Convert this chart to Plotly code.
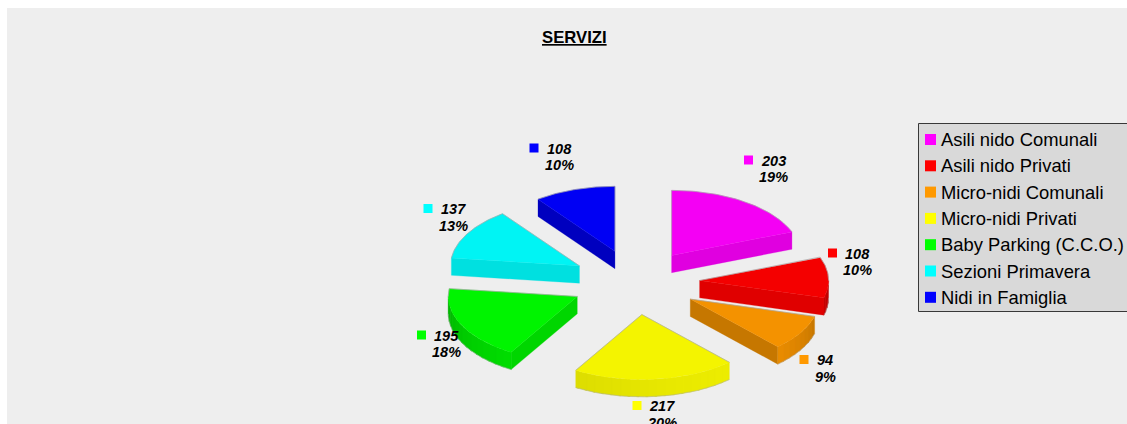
import numpy as np
import plotly.graph_objects as go

# ---- data ----
categories = ["Asili nido Comunali", "Asili nido Privati", "Micro-nidi Comunali", "Micro-nidi Privati",
              "Baby Parking (C.C.O.)", "Sezioni Primavera", "Nidi in Famiglia"]
values = [203, 108, 94, 217, 195, 137, 108]
colors = ["#FF00FF", "#FF0000", "#FF9900", "#FFFF00", "#00FF00", "#00FFFF", "#0000FF"]
title_text = "SERVIZI"

# ---- layout constants (pixels in the 1127x424 page) ----
W, H = 1127, 424
PANEL_L, PANEL_T = 7, 8
CX, CY, RX, RY = 635.2, 282.2, 129.0, 65.0   # pie centre and radii
EXPLODE = 0.5                                 # in radii
DEPTH = 17.3 / RY                             # in radii
LABEL_SQUARES = [(748.5, 160), (832.5, 253), (804, 359.5), (637, 405.5), (421.5, 335), (428, 208.5), (534, 148)]
EDGE = "#A8A8A8"

def X(px):
    return (px - CX) / RX

def Y(py):
    return (CY - py) / RY

def shade(color, f):
    r, g, b = int(color[1:3], 16), int(color[3:5], 16), int(color[5:7], 16)
    return f"rgb({int(r * f)},{int(g * f)},{int(b * f)})"

def arc_factor(theta):
    return float(np.interp(theta % 360, [90, 120, 140, 170, 211, 240, 270],
                           [0.72, 0.85, 0.93, 0.91, 0.87, 0.80, 0.70]))

def edge_factor(normal):
    return float(np.interp(normal % 360, [120, 158, 187, 195, 227, 233],
                           [0.84, 0.88, 0.88, 0.88, 0.78, 0.75]))

fig = go.Figure()

def poly(xs, ys, fill):
    fig.add_trace(go.Scatter(
        x=xs, y=ys, mode="lines", fill="toself", fillcolor=fill,
        line=dict(color=fill, width=0.3), hoverinfo="skip", showlegend=False))

def stroke(xs, ys, color=EDGE, width=0.7):
    fig.add_trace(go.Scatter(
        x=xs, y=ys, mode="lines", line=dict(color=color, width=width),
        hoverinfo="skip", showlegend=False))

total = sum(values)
start = 0.0
for value, color in zip(values, colors):
    extent = value / total * 360
    end = start + extent
    mid = np.radians(start + extent / 2)
    dx, dy = EXPLODE * np.sin(mid), EXPLODE * np.cos(mid)

    # flat walls along the straight edges that face the viewer
    edges = ((start, start - 90), (end, end + 90))
    for a, normal in edges:
        if np.cos(np.radians(normal)) < -1e-6:
            t = np.radians(a)
            ex, ey = dx + np.sin(t), dy + np.cos(t)
            poly([dx, ex, ex, dx, dx], [dy, ey, ey - DEPTH, dy - DEPTH, dy],
                 shade(color, edge_factor(normal)))

    # outer rounded wall, facing the viewer only between 90 and 270 degrees
    a0, a1 = max(start, 90), min(end, 270)
    if a1 > a0:
        for a in np.arange(a0, a1, 4.0):
            b = min(a + 5.0, a1)
            arc = np.radians(np.linspace(a, b, 5))
            ax, ay = dx + np.sin(arc), dy + np.cos(arc)
            poly(list(ax) + list(ax[::-1]) + [ax[0]],
                 list(ay) + list(ay[::-1] - DEPTH) + [ay[0]],
                 shade(color, arc_factor(a + 2)))
        arc = np.radians(np.linspace(a0, a1, 40))
        stroke(dx + np.sin(arc), dy + np.cos(arc) - DEPTH, width=0.5)

    # top face
    arc = np.radians(np.linspace(start, end, 60))
    poly([dx] + list(dx + np.sin(arc)) + [dx], [dy] + list(dy + np.cos(arc)) + [dy], shade(color, 0.96))

    # thin grey line on the far edges of the top face
    for a, normal in edges:
        if np.cos(np.radians(normal)) >= -1e-6:
            t = np.radians(a)
            stroke([dx, dx + np.sin(t)], [dy, dy + np.cos(t)])
    for lo, hi in ((start, min(end, 90)), (max(start, 270), end)):
        if hi > lo:
            arc = np.radians(np.linspace(lo, hi, 40))
            stroke(dx + np.sin(arc), dy + np.cos(arc))
    start = end

# data labels
annotations = []
def text(px, py, s, size, bold=False, italic=False, anchor="center"):
    if bold:
        s = f"<b>{s}</b>"
    if italic:
        s = f"<i>{s}</i>"
    annotations.append(dict(x=X(px), y=Y(py), text=s, showarrow=False, xanchor=anchor, yanchor="middle",
                            font=dict(family="Liberation Sans", size=size, color="#000000"),
                            xref="x", yref="y", borderpad=0, borderwidth=0))

fig.add_trace(go.Scatter(
    x=[X(p[0]) for p in LABEL_SQUARES], y=[Y(p[1]) for p in LABEL_SQUARES], mode="markers",
    marker=dict(symbol="square", size=9, color=colors, line=dict(width=0)),
    hoverinfo="skip", showlegend=False))
for (px, py), value in zip(LABEL_SQUARES, values):
    centre = px + 13 + 4 * len(str(value))
    text(centre, py + 0.6, str(value), 14.5, bold=True, italic=True)
    text(centre, py + 17, f"{round(value / total * 100)}%", 14.5, bold=True, italic=True)

# legend panel
LEG_L, LEG_T, LEG_B = 918.5, 123.5, 311.5
LEG_FIRST, LEG_STEP = 139.5, 26.3
legend_y = [LEG_FIRST + i * LEG_STEP for i in range(len(categories))]
shapes = [dict(type="rect", xref="x", yref="y", x0=X(LEG_L), x1=X(W + 5), y0=Y(LEG_T), y1=Y(LEG_B),
               fillcolor="#D9D9D9", line=dict(color="#383838", width=1), layer="below")]
fig.add_trace(go.Scatter(
    x=[X(930.5)] * len(categories), y=[Y(v) for v in legend_y], mode="markers",
    marker=dict(symbol="square", size=11, color=colors, line=dict(width=0)),
    hoverinfo="skip", showlegend=False))
for name, py in zip(categories, legend_y):
    text(941, py, name, 18.4, anchor="left")

# title
text(574.5, 37.5, f"<u>{title_text}</u>", 16.7, bold=True)

fig.update_layout(
    width=W, height=H, autosize=False,
    margin=dict(l=PANEL_L, t=PANEL_T, r=0, b=0, pad=0),
    paper_bgcolor="#FFFFFF", plot_bgcolor="#EEEEEE",
    xaxis=dict(range=[X(PANEL_L), X(W)], visible=False, fixedrange=True),
    yaxis=dict(range=[Y(H), Y(PANEL_T)], visible=False, fixedrange=True),
    annotations=annotations, shapes=shapes, showlegend=False,
)
fig.write_html("out.html", config={"displayModeBar": False},
               post_script="document.body.style.margin='0';document.body.style.overflow='hidden';")
